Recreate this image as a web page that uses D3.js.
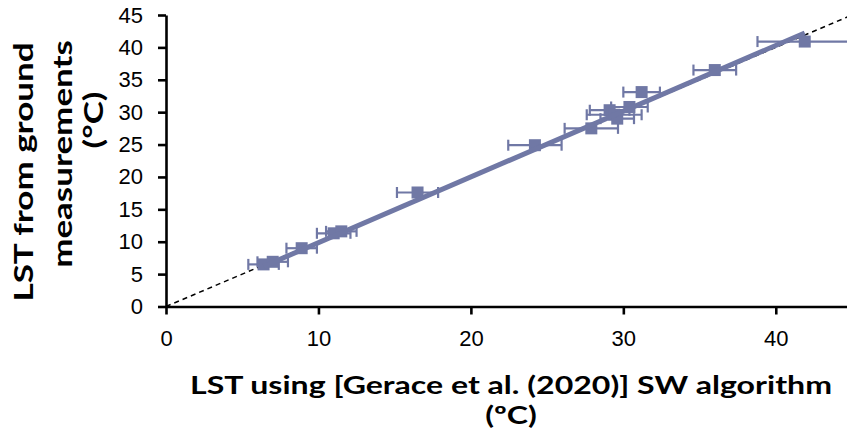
<!DOCTYPE html>
<html>
<head>
<meta charset="utf-8">
<script src="https://cdn.jsdelivr.net/npm/d3@7"></script>
<style>
  body { margin: 0; background: #fff; }
  svg { display: block; font-family: Lato, "Open Sans", sans-serif; }
</style>
</head>
<body>
<div id="vis"></div>
<script>
// LST from the SW algorithm (x) vs ground measurements (y), with x error bars
const lstSW     = [6.4, 7.0, 8.9, 11.0, 11.5, 16.5, 24.2, 27.9, 29.1, 29.4, 29.6, 30.4, 31.2, 36.0, 41.9];
const lstGround = [6.5, 6.9, 9.0, 11.3, 11.6, 17.6, 24.9, 27.5, 30.3, 29.6, 29.0, 30.8, 33.1, 36.5, 40.9];
const errSW     = [1.0, 1.0, 1.0, 1.1, 1.0, 1.35, 1.75, 1.75, 1.3, 1.8, 1.1, 1.2, 1.2, 1.4, 3.1];

// linear fit drawn over the points
const fitSlope = 1.015;
const fitIntercept = -0.3;

const xTicks = [0, 10, 20, 30, 40];
const yTicks = [0, 5, 10, 15, 20, 25, 30, 35, 40, 45];

const xTitle = ["LST using [Gerace et al. (2020)] SW algorithm", "(ºC)"];
const yTitle = ["LST from ground", "measurements", "(°C)"];

// stretch a tspan to a width (the original font is wider than Lato)
function stretch(tspan, factor){
  const w = tspan.node().getComputedTextLength();
  tspan.attr("textLength", w * factor).attr("lengthAdjust", "spacingAndGlyphs");
}

function drawChart(){
  const size = {width: 847, height: 431};
  const color = "#7078a5";

  const data = lstSW.map((x, i) => ({x: x, y: lstGround[i], e: errSW[i]}));

  const x = d3.scaleLinear().domain([0, 45]).range([166, 852]);
  const y = d3.scaleLinear().domain([0, 45]).range([306.5, 15]);

  const svg = d3.select("#vis")
    .append("svg")
    .attr("viewBox", [0, 0, size.width, size.height])
    .attr("width", size.width)
    .attr("height", size.height);

  // 1:1 line
  svg.append("line")
    .attr("x1", x(0)).attr("y1", y(0))
    .attr("x2", x(45)).attr("y2", y(45))
    .attr("stroke", "#000")
    .attr("stroke-width", 1.5)
    .attr("stroke-dasharray", "5,4");

  // error bars
  const eb = svg.append("g")
    .attr("stroke", color)
    .attr("stroke-width", 2.2)
    .attr("fill", "none");
  data.forEach(d => {
    eb.append("line")
      .attr("x1", x(d.x - d.e)).attr("x2", x(d.x + d.e))
      .attr("y1", y(d.y)).attr("y2", y(d.y));
    [d.x - d.e, d.x + d.e].forEach(v => {
      eb.append("line")
        .attr("x1", x(v)).attr("x2", x(v))
        .attr("y1", y(d.y) - 5.5).attr("y2", y(d.y) + 5.5);
    });
  });

  // markers
  const m = 12;
  svg.append("g")
    .selectAll("rect")
    .data(data)
    .join("rect")
    .attr("x", d => x(d.x) - m/2)
    .attr("y", d => y(d.y) - m/2)
    .attr("width", m)
    .attr("height", m)
    .attr("fill", color);

  // fit line
  const x0 = d3.min(lstSW), x1 = d3.max(lstSW);
  svg.append("line")
    .attr("x1", x(x0)).attr("y1", y(fitSlope * x0 + fitIntercept))
    .attr("x2", x(x1)).attr("y2", y(fitSlope * x1 + fitIntercept))
    .attr("stroke", color)
    .attr("stroke-width", 5);

  // axes
  const xAxis = svg.append("g")
    .attr("transform", `translate(0, ${y(0)})`)
    .call(d3.axisBottom(x).tickValues(xTicks).tickSize(8).tickPadding(16).tickSizeOuter(0));
  const yAxis = svg.append("g")
    .attr("transform", `translate(${x(0)}, 0)`)
    .call(d3.axisLeft(y).tickValues(yTicks).tickSize(8).tickPadding(15).tickSizeOuter(0));

  [xAxis, yAxis].forEach(a => {
    a.select(".domain").attr("stroke-width", 2.6);
    a.selectAll(".tick line").attr("stroke-width", 2.6);
    a.selectAll("text")
      .style("font-size", "22px")
      .style("fill", "#000");
  });

  // x title
  const xt = svg.append("text")
    .attr("text-anchor", "middle")
    .style("font-weight", "bold")
    .style("font-size", "25px");
  const xl1 = xt.append("tspan").attr("x", 511).attr("y", 394).text(xTitle[0]);
  const xl2 = xt.append("tspan").attr("x", 511).attr("y", 424).text(xTitle[1]);
  const xs = 642 / xl1.node().getComputedTextLength();
  stretch(xl1, xs);
  stretch(xl2, xs);

  // y title lines, rotated; each line has its own centre as in the picture
  const yCentres = [172, 154, 120];
  const yBase = [33, 72, 103];
  const yt = svg.append("text")
    .attr("text-anchor", "middle")
    .attr("transform", "rotate(-90)")
    .style("font-weight", "bold")
    .style("font-size", "26px");
  const yl = yTitle.map((t, i) =>
    yt.append("tspan").attr("x", -yCentres[i]).attr("y", yBase[i]).text(t));
  const ys = 259 / yl[0].node().getComputedTextLength();
  yl.forEach(t => stretch(t, ys));
}

drawChart();
</script>
</body>
</html>
